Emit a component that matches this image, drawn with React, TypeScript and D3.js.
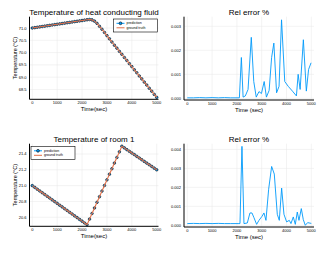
import React from 'react';
import * as d3 from 'd3';

// sample times of the simulation (sec)
const sampleTimes = [
  0, 100, 200, 300, 400, 500, 600, 700, 800, 900, 1000, 1100, 1200, 1300, 1400, 1500, 1600,
  1700, 1800, 1900, 2000, 2100, 2200, 2300, 2400, 2500, 2600, 2700, 2800, 2900, 3000, 3100,
  3200, 3300, 3400, 3500, 3600, 3700, 3800, 3900, 4000, 4100, 4200, 4300, 4400, 4500, 4600,
  4700, 4800, 4900, 5000,
];

// prediction and ground truth overlap (rel. error < 0.005%)
const fluidTemperature = [
  71.0, 71.015, 71.03, 71.046, 71.061, 71.076, 71.091, 71.107, 71.122, 71.137, 71.152, 71.167,
  71.183, 71.198, 71.213, 71.228, 71.243, 71.259, 71.274, 71.289, 71.304, 71.32, 71.335, 71.345,
  71.33, 71.28, 71.19, 71.07, 70.95, 70.82, 70.69, 70.56, 70.43, 70.3, 70.18, 70.05, 69.93,
  69.8, 69.68, 69.55, 69.43, 69.3, 69.18, 69.05, 68.93, 68.8, 68.68, 68.55, 68.43, 68.3, 68.18,
];

const roomTemperature = [
  21.0, 20.978, 20.955, 20.933, 20.91, 20.888, 20.865, 20.843, 20.82, 20.798, 20.776, 20.753,
  20.731, 20.708, 20.686, 20.663, 20.641, 20.618, 20.596, 20.573, 20.551, 20.528, 20.506,
  20.577, 20.648, 20.718, 20.789, 20.86, 20.931, 21.002, 21.073, 21.144, 21.214, 21.285, 21.356,
  21.427, 21.498, 21.477, 21.455, 21.434, 21.413, 21.392, 21.37, 21.349, 21.328, 21.306, 21.285,
  21.264, 21.243, 21.221, 21.2,
];

const fluidErrTimes = [
  0, 250, 500, 750, 1000, 1250, 1500, 1750, 2100, 2180, 2250, 2340, 2450, 2580, 2680, 2780,
  2890, 2990, 3100, 3190, 3300, 3400, 3490, 3600, 3700, 3800, 3930, 4070, 4240, 4400, 4470,
  4550, 4680, 4800, 4890, 4990,
];
const fluidErr = [
  0.00002, 0.00002, 0.00003, 0.00002, 0.00003, 0.00002, 0.00003, 0.00002, 0.00002, 0.0017,
  0.00005, 0.0001, 0.00037, 0.00254, 0.0007, 0.00005, 0.00028, 0.0002, 0.0007, 0.00005, 0.00033,
  0.0017, 0.0023, 0.00023, 0.0005, 0.00327, 0.0007, 0.0005, 0.0003, 0.0001, 0.001, 0.00037,
  0.00244, 0.0003, 0.0012, 0.00148,
];

const roomErrTimes = [
  0, 250, 500, 750, 1000, 1250, 1500, 1750, 2080, 2124, 2204, 2285, 2419, 2527, 2608, 2688,
  2796, 2890, 3011, 3091, 3172, 3280, 3401, 3508, 3629, 3710, 3804, 3898, 4005, 4113, 4180,
  4274, 4355, 4435, 4503, 4597, 4677, 4758, 4852, 5000,
];
const roomErr = [
  0.00009, 0.0001, 0.00009, 0.0001, 0.00009, 0.0001, 0.00009, 0.00009, 0.00009, 0.00009,
  0.00416, 0.00009, 0.00012, 0.00065, 0.00065, 0.0004, 0.00005, 0.00026, 0.00047, 0.00065,
  0.00026, 0.0019, 0.0031, 0.0027, 0.00058, 0.00026, 0.00196, 0.00058, 0.00018, 0.00026,
  0.00009, 0.00044, 0.00005, 0.0007, 0.00026, 0.00088, 0.0003, 0.0, 0.00014, 0.0001,
];

const timeTicks = [0, 1000, 2000, 3000, 4000, 5000];
const fluidTicks = [68.5, 69.0, 69.5, 70.0, 70.5, 71.0];
const roomTicks = [20.6, 20.8, 21.0, 21.2, 21.4];
const fluidErrTicks = [0, 0.001, 0.002, 0.003];
const roomErrTicks = [0, 0.001, 0.002, 0.003, 0.004];

const FONT = '"Liberation Sans", Arial, sans-serif';
const BLUE = '#009afa';
const ORANGE = '#e36f47';
const GRID = '#e6e6e6';

type Box = { left: number; right: number; top: number; bottom: number };
type Scale = d3.ScaleLinear<number, number>;

interface PanelProps {
  box: Box;
  xDomain: [number, number];
  yDomain: [number, number];
  yTicks: number[];
  yFmt: (v: number) => string;
  title: string;
  xLabel: string;
  yLabel?: string;
  render: (x: Scale, y: Scale) => React.ReactNode;
}

const Panel: React.FC<PanelProps> = ({ box, xDomain, yDomain, yTicks, yFmt, title, xLabel, yLabel, render }) => {
  const x = d3.scaleLinear().domain(xDomain).range([box.left, box.right]);
  const y = d3.scaleLinear().domain(yDomain).range([box.bottom, box.top]);
  const cx = (box.left + box.right) / 2;
  const cy = (box.top + box.bottom) / 2;
  return (
    <g fontFamily={FONT}>
      {timeTicks.map(t => (
        <line key={'gx' + t} x1={x(t)} x2={x(t)} y1={box.top} y2={box.bottom} stroke={GRID} strokeWidth={0.5} />
      ))}
      {yTicks.map(v => (
        <line key={'gy' + v} x1={box.left} x2={box.right} y1={y(v)} y2={y(v)} stroke={GRID} strokeWidth={0.5} />
      ))}
      {render(x, y)}
      <line x1={box.left} x2={box.left} y1={box.top} y2={box.bottom} stroke="#000" strokeWidth={1} />
      <line x1={box.left} x2={box.right} y1={box.bottom} y2={box.bottom} stroke="#000" strokeWidth={1} />
      {timeTicks.map(t => (
        <text key={'tx' + t} x={x(t)} y={box.bottom + 5} fontSize={4} textAnchor="middle" fill="#000">
          {t}
        </text>
      ))}
      {yTicks.map(v => (
        <text key={'ty' + v} x={box.left - 3} y={y(v)} fontSize={4} textAnchor="end" dominantBaseline="central" fill="#000">
          {yFmt(v)}
        </text>
      ))}
      <text x={cx} y={box.top - 2} fontSize={8} textAnchor="middle" fill="#000">
        {title}
      </text>
      <text x={cx} y={box.bottom + 12} fontSize={6} textAnchor="middle" fill="#000">
        {xLabel}
      </text>
      {yLabel && (
        <text
          transform={`translate(${box.left - 15},${cy}) rotate(-90)`}
          fontSize={5.5}
          textAnchor="middle"
          dominantBaseline="central"
          fill="#000"
        >
          {yLabel}
        </text>
      )}
    </g>
  );
};

const Legend: React.FC<{ x: number; y: number }> = ({ x, y }) => (
  <g fontFamily={FONT}>
    <rect x={x} y={y} width={44} height={13} fill="#fff" stroke="#000" strokeWidth={0.6} />
    <line x1={x + 3} x2={x + 11} y1={y + 4.3} y2={y + 4.3} stroke={BLUE} strokeWidth={1} />
    <circle cx={x + 7} cy={y + 4.3} r={1.4} fill={BLUE} stroke="#000" strokeWidth={0.6} />
    <text x={x + 13} y={y + 4.3} fontSize={3.5} dominantBaseline="central" fill="#000">prediction</text>
    <line x1={x + 3} x2={x + 11} y1={y + 8.8} y2={y + 8.8} stroke={ORANGE} strokeWidth={1} />
    <text x={x + 13} y={y + 8.8} fontSize={3.5} dominantBaseline="central" fill="#000">ground truth</text>
  </g>
);

const tempSeries = (values: number[]) => (x: Scale, y: Scale) => {
  const line = d3.line<number>().x((_, i) => x(sampleTimes[i])).y(d => y(d));
  return (
    <g>
      {values.map((v, i) => (
        <circle key={i} cx={x(sampleTimes[i])} cy={y(v)} r={1.3} fill={BLUE} stroke="#000" strokeWidth={0.6} />
      ))}
      <path d={line(values) ?? ''} fill="none" stroke={ORANGE} strokeWidth={1.1} />
    </g>
  );
};

const errSeries = (times: number[], values: number[]) => (x: Scale, y: Scale) => {
  const line = d3.line<number>().x((_, i) => x(times[i])).y(d => y(d));
  return <path d={line(values) ?? ''} fill="none" stroke={BLUE} strokeWidth={0.9} strokeLinejoin="round" />;
};

const fmt1 = d3.format('.1f');
const fmt3 = d3.format('.3f');

export default function App() {
  return (
    <svg width={317} height={254} style={{ position: 'absolute', left: 0, top: 0, background: '#fff' }}>
      <Panel
        box={{ left: 29.5, right: 158.5, top: 16.7, bottom: 99.3 }}
        xDomain={[-112.5, 5072]}
        yDomain={[68.1, 71.46]}
        yTicks={fluidTicks}
        yFmt={fmt1}
        title="Temperature of heat conducting fluid"
        xLabel="Time(sec)"
        yLabel="Temperature (°C)"
        render={tempSeries(fluidTemperature)}
      />
      <Legend x={113.5} y={19} />
      <Panel
        box={{ left: 184, right: 314, top: 16.7, bottom: 100 }}
        xDomain={[-133, 5109]}
        yDomain={[-0.00007, 0.0034]}
        yTicks={fluidErrTicks}
        yFmt={fmt3}
        title="Rel error %"
        xLabel="Time (sec)"
        render={errSeries(fluidErrTimes, fluidErr)}
      />
      <Panel
        box={{ left: 29.5, right: 158.5, top: 143.7, bottom: 226.3 }}
        xDomain={[-112.5, 5072]}
        yDomain={[20.486, 21.53]}
        yTicks={roomTicks}
        yFmt={fmt1}
        title="Temperature of room 1"
        xLabel="Time(sec)"
        yLabel="Temperature (°C)"
        render={tempSeries(roomTemperature)}
      />
      <Legend x={31} y={146.5} />
      <Panel
        box={{ left: 184, right: 314, top: 143.7, bottom: 227 }}
        xDomain={[-133, 5109]}
        yDomain={[-0.00009, 0.0043]}
        yTicks={roomErrTicks}
        yFmt={fmt3}
        title="Rel error %"
        xLabel="Time (sec)"
        render={errSeries(roomErrTimes, roomErr)}
      />
    </svg>
  );
}
